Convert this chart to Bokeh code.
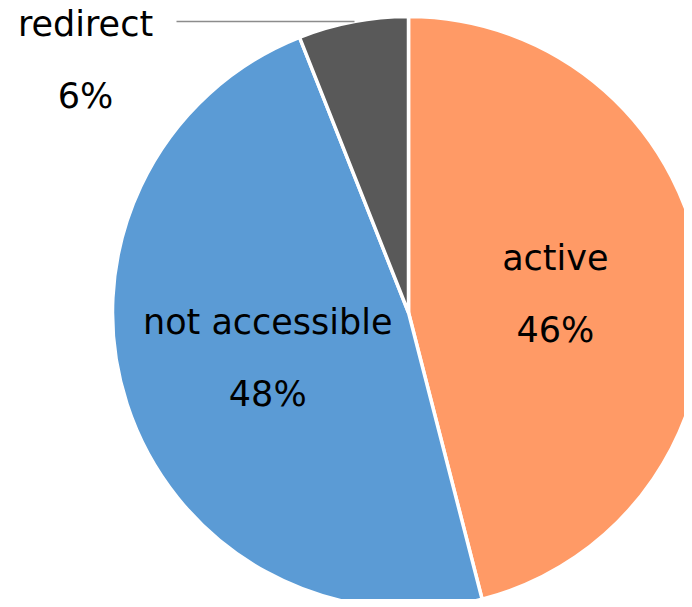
import math
from bokeh.plotting import figure
from bokeh.models import Range1d, ColumnDataSource
from bokeh.core.properties import value
from bokeh.embed import file_html
from bokeh.resources import INLINE

categories = ["active", "not accessible", "redirect"]
shares = [46, 48, 6]
colors = ["#FF9A66", "#5B9BD5", "#595959"]

W, H = 684, 599
p = figure(width=W, height=H, output_backend="svg", toolbar_location=None,
           x_range=Range1d(0, W), y_range=Range1d(0, H), min_border=0)
p.axis.visible = False
p.grid.visible = False
p.outline_line_color = None
p.background_fill_color = "white"

cx, cy, r = 408, H - 312, 296
total = sum(shares)
starts, ends, mids = [], [], []
cum = 0
for s in shares:
    a0 = math.pi / 2 - 2 * math.pi * cum / total
    cum += s
    a1 = math.pi / 2 - 2 * math.pi * cum / total
    starts.append(a0); ends.append(a1); mids.append((a0 + a1) / 2)

src = ColumnDataSource(dict(start=starts, end=ends, color=colors, cat=categories))
p.wedge(x=cx, y=cy, radius=r, start_angle="start", end_angle="end", direction="clock",
        fill_color="color", line_color="white", line_width=3.5, source=src)

font = value("DejaVu Sans")
fs = "35px"
lx, ly, lt = [], [], []
for i, cat in enumerate(categories):
    pct = f"{shares[i]}%"
    if cat == "redirect":
        x0, y0 = 85, H - 59
    else:
        x0 = cx + 0.5 * r * math.cos(mids[i])
        y0 = cy + 0.5 * r * math.sin(mids[i])
    lx += [x0, x0]; ly += [y0 + 36, y0 - 36]; lt += [cat, pct]

p.text(x=lx, y=ly, text=lt, text_font=font, text_font_size=fs, text_color="#000000",
       text_align="center", text_baseline="middle")

# leader line for redirect
p.line(x=[176, 354], y=[H - 21, H - 21], line_color="#8C8C8C", line_width=1.5)

open("out.html", "w").write(file_html(p, INLINE))
